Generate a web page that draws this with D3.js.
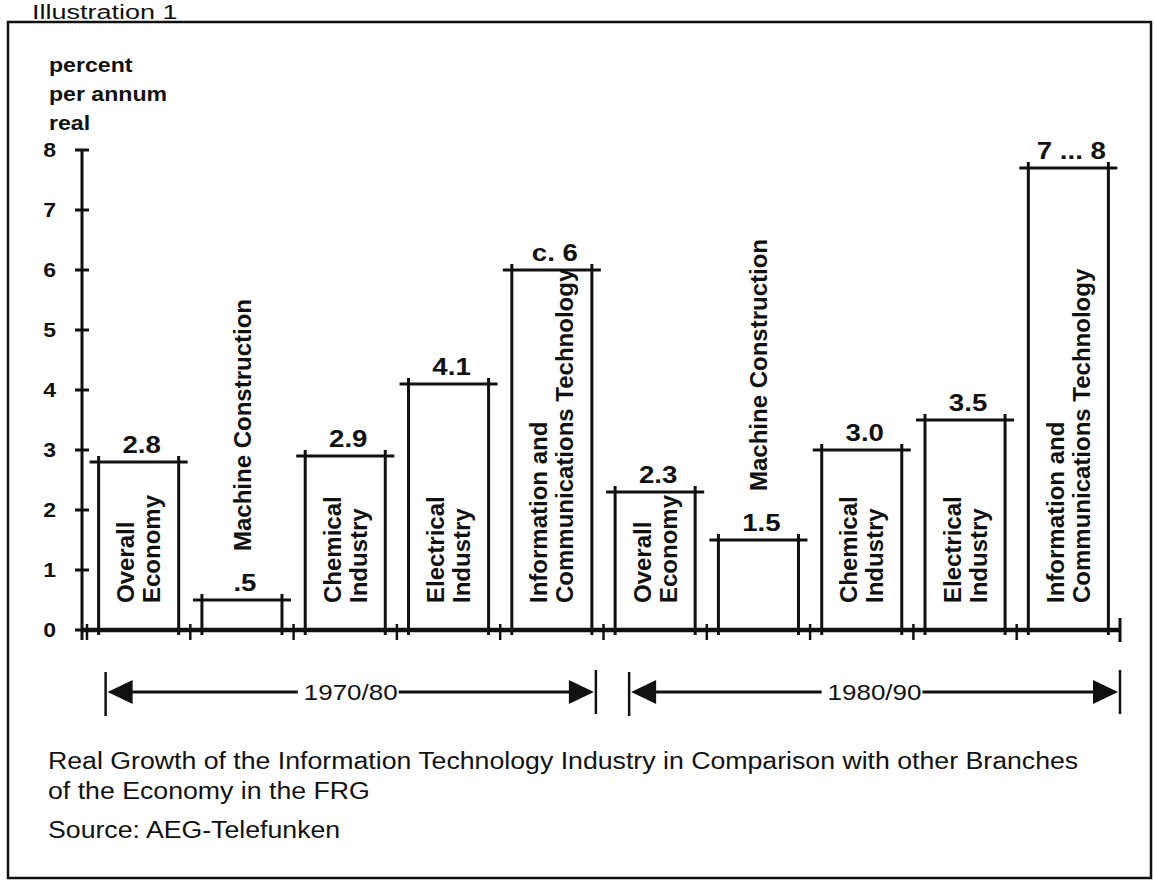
<!DOCTYPE html>
<html>
<head>
<meta charset="utf-8">
<script src="https://cdn.jsdelivr.net/npm/d3@7"></script>
<style>
  html, body { margin: 0; padding: 0; background: #fff; }
  svg { display: block; }
  text { font-family: "Liberation Sans", Arial, Helvetica, sans-serif; fill: #111; }
</style>
</head>
<body>
<svg id="chart" width="1154" height="895"></svg>
<script>
// ---------------- data ----------------
const periods = ["1970/80", "1980/90"];
const categories = ["Overall Economy", "Machine Construction", "Chemical Industry", "Electrical Industry", "Information and Communications Technology"];
const categoryLines = [["Overall", "Economy"], ["Machine Construction"], ["Chemical", "Industry"], ["Electrical", "Industry"], ["Information and", "Communications Technology"]];
const values7080 = [2.8, 0.5, 2.9, 4.1, 6.0];
const values8090 = [2.3, 1.5, 3.0, 3.5, 7.7];
const valueLabels7080 = ["2.8", ".5", "2.9", "4.1", "c. 6"];
const valueLabels8090 = ["2.3", "1.5", "3.0", "3.5", "7 ... 8"];
const yTicks = [0, 1, 2, 3, 4, 5, 6, 7, 8];
const yAxisTitle = ["percent", "per annum", "real"];
const figureTitle = "Illustration 1";
const captionLines = ["Real Growth of the Information Technology Industry in Comparison with other Branches", "of the Economy in the FRG"];
const sourceText = "Source: AEG-Telefunken";

// ---------------- build rows ----------------
const rows = [];
periods.forEach((p, pi) => {
  const vals = pi === 0 ? values7080 : values8090;
  const labs = pi === 0 ? valueLabels7080 : valueLabels8090;
  categories.forEach((c, ci) => {
    rows.push({ key: p + "|" + c, period: p, cat: c, ci, value: vals[ci], label: labs[ci], lines: categoryLines[ci] });
  });
});

const svg = d3.select("#chart");
const ink = "#111";

// horizontal widening of the scanned lettering
function stretch(sel, k) {
  sel.each(function () {
    const w = this.getComputedTextLength();
    d3.select(this).attr("textLength", w * k).attr("lengthAdjust", "spacingAndGlyphs");
  });
  return sel;
}

// frame
svg.append("rect").attr("x", 8).attr("y", 22).attr("width", 1143).attr("height", 856)
  .attr("fill", "none").attr("stroke", ink).attr("stroke-width", 2.5);
stretch(svg.append("text").attr("x", 32).attr("y", 19).attr("font-size", 20).text(figureTitle), 1.35);

// scales
const y = d3.scaleLinear().domain([0, 8]).range([630, 150]);
const x = d3.scaleBand().domain(rows.map(d => d.key)).range([87, 1120]).paddingInner(0.225).paddingOuter(0.1125);
const bw = x.bandwidth();
const gap = x.step() - bw;
const y0 = y(0);
const axisX = 82;

// y axis
const ya = svg.append("g");
ya.append("line").attr("x1", axisX).attr("x2", axisX).attr("y1", y(8)).attr("y2", y0 + 10)
  .attr("stroke", ink).attr("stroke-width", 3);
ya.selectAll("line.tk").data(yTicks).join("line").attr("class", "tk")
  .attr("x1", axisX - 7).attr("x2", axisX + 7).attr("y1", d => y(d)).attr("y2", d => y(d))
  .attr("stroke", ink).attr("stroke-width", 3);
stretch(ya.selectAll("text").data(yTicks).join("text")
  .attr("x", 56).attr("y", d => y(d)).attr("dy", "0.36em").attr("text-anchor", "end")
  .attr("font-size", 20).attr("font-weight", "bold").text(d => d), 1.15);
stretch(svg.append("g").selectAll("text").data(yAxisTitle).join("text")
  .attr("x", 49).attr("y", (d, i) => 72 + i * 29).attr("font-size", 21).attr("font-weight", "bold").text(d => d), 1.1);

// baseline and slot ticks
svg.append("line").attr("x1", axisX).attr("x2", 1120).attr("y1", y0).attr("y2", y0)
  .attr("stroke", ink).attr("stroke-width", 4.5);
svg.append("line").attr("x1", 1120).attr("x2", 1120).attr("y1", y0 - 12).attr("y2", y0 + 12)
  .attr("stroke", ink).attr("stroke-width", 3);
svg.append("g").selectAll("line").data(rows).join("line")
  .attr("x1", d => x(d.key) - gap / 2).attr("x2", d => x(d.key) - gap / 2)
  .attr("y1", y0 - 6).attr("y2", y0 + 10).attr("stroke", ink).attr("stroke-width", 2.5);

// bars
const bars = svg.append("g").selectAll("g").data(rows).join("g");
bars.append("path")
  .attr("d", d => {
    const l = x(d.key), r = l + bw, t = y(d.value);
    return `M${l},${y0 + 5}V${t - 6}M${r},${y0 + 5}V${t - 6}`;
  })
  .attr("fill", "none").attr("stroke", ink).attr("stroke-width", 3);
bars.append("line")
  .attr("x1", d => x(d.key) - 9).attr("x2", d => x(d.key) + bw + 9)
  .attr("y1", d => y(d.value)).attr("y2", d => y(d.value))
  .attr("stroke", ink).attr("stroke-width", 3);
stretch(bars.append("text")
  .attr("x", d => x(d.key) + bw / 2 + 3).attr("y", d => y(d.value) - 9)
  .attr("text-anchor", "middle").attr("font-size", 24).attr("font-weight", "bold")
  .text(d => d.label), 1.15);

// category labels (rotated)
bars.each(function (d) {
  const g = d3.select(this);
  const cx = x(d.key) + bw / 2;
  if (d.lines.length === 1) {
    const startY = y(d.value) - 49;
    g.append("text").attr("transform", `translate(${cx},${startY}) rotate(-90)`)
      .attr("dy", "0.36em").attr("font-size", 24).attr("font-weight", "bold").text(d.lines[0]);
  } else {
    d.lines.forEach((ln, i) => {
      g.append("text").attr("transform", `translate(${cx + (i === 0 ? -13 : 13)},${y0 - 27}) rotate(-90)`)
        .attr("dy", "0.36em").attr("font-size", 24).attr("font-weight", "bold").text(ln);
    });
  }
});

// period arrows
const arrowY = 692;
const spans = periods.map((p, pi) => {
  const keys = rows.filter(r => r.period === p).map(r => r.key);
  const l = x(keys[0]) + (pi === 0 ? 7 : 14);
  const r = pi === 0 ? x(keys[keys.length - 1]) + bw + 4 : 1120;
  return { p, l, r };
});
const ag = svg.append("g");
spans.forEach(s => {
  ag.append("line").attr("x1", s.l).attr("x2", s.l).attr("y1", arrowY - 20).attr("y2", arrowY + 24)
    .attr("stroke", ink).attr("stroke-width", 2.5);
  ag.append("line").attr("x1", s.r).attr("x2", s.r).attr("y1", arrowY - 22).attr("y2", arrowY + 22)
    .attr("stroke", ink).attr("stroke-width", 2.5);
  ag.append("path").attr("d", `M${s.l + 2},${arrowY}L${s.l + 27},${arrowY - 12}L${s.l + 27},${arrowY + 12}Z`).attr("fill", ink);
  ag.append("path").attr("d", `M${s.r - 2},${arrowY}L${s.r - 27},${arrowY - 12}L${s.r - 27},${arrowY + 12}Z`).attr("fill", ink);
  const mid = (s.l + s.r) / 2;
  const t = ag.append("text").attr("x", mid).attr("y", arrowY).attr("dy", "0.36em")
    .attr("text-anchor", "middle").attr("font-size", 22).text(s.p);
  const tw = t.node().getComputedTextLength() * 1.18;
  stretch(t, 1.18);
  ag.append("line").attr("x1", s.l + 20).attr("x2", mid - tw / 2 - 6).attr("y1", arrowY).attr("y2", arrowY)
    .attr("stroke", ink).attr("stroke-width", 3);
  ag.append("line").attr("x1", mid + tw / 2 + 1).attr("x2", s.r - 20).attr("y1", arrowY).attr("y2", arrowY)
    .attr("stroke", ink).attr("stroke-width", 3);
});

// caption & source
stretch(svg.append("g").selectAll("text").data(captionLines).join("text")
  .attr("x", 48).attr("y", (d, i) => 769 + i * 30).attr("font-size", 23).text(d => d), 1.16);
stretch(svg.append("text").attr("x", 48).attr("y", 838).attr("font-size", 23).text(sourceText), 1.16);
</script>
</body>
</html>
